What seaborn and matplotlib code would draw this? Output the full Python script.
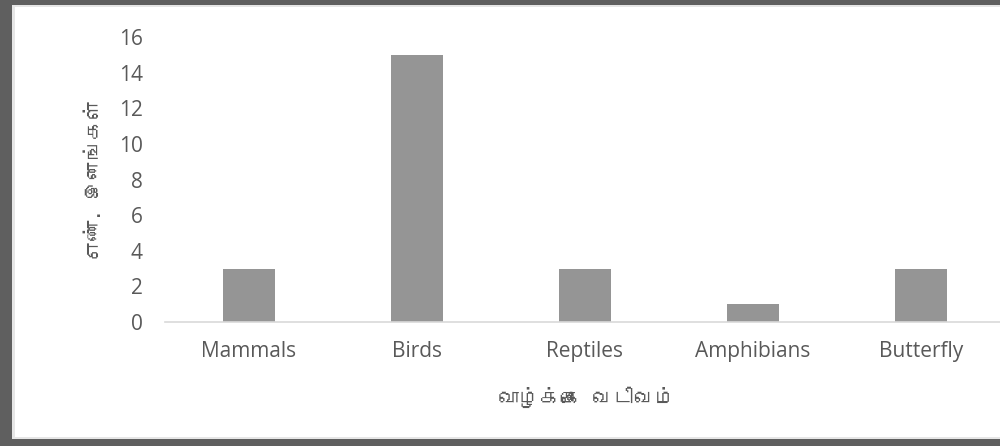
import matplotlib
matplotlib.use("Agg")
import matplotlib.pyplot as plt
from matplotlib import font_manager
from matplotlib.patches import Rectangle
import seaborn as sns
import pandas as pd

categories = ["Mammals", "Birds", "Reptiles", "Amphibians", "Butterfly"]
counts = [3, 15, 3, 1, 3]
y_ticks = [0, 2, 4, 6, 8, 10, 12, 14, 16]
x_label = "வாழ்க்கை வடிவம்"
y_label = "எண். இனங்கள்"

sns.set_theme(style="white")

# look for any installed font that has Tamil glyphs
tamil_family = None
try:
    from matplotlib.ft2font import FT2Font
    for fe in font_manager.fontManager.ttflist:
        try:
            f = FT2Font(fe.fname)
            cmap = f.get_charmap()
            if 0x0BB5 in cmap and 0x0BBE in cmap:
                tamil_family = fe.name
                break
        except Exception:
            continue
except Exception:
    pass

base_fams = ["Open Sans", "DejaVu Sans"]
label_fams = ([tamil_family] if tamil_family else []) + base_fams
plt.rcParams["font.family"] = base_fams

df = pd.DataFrame({"category": categories, "count": counts})

fig = plt.figure(figsize=(10, 4.46), dpi=100)
ax = fig.add_axes([0.165, 0.278, 0.84, 0.639])
sns.barplot(data=df, x="category", y="count", color="#959595", width=0.315,
            saturation=1, ax=ax, edgecolor="none")

ax.set_xlim(-0.5, 4.5)
ax.set_ylim(0, 16)
ax.set_yticks(y_ticks)
ax.set_yticklabels([str(v) for v in y_ticks])
ax.tick_params(axis="both", length=0, labelsize=15)
ax.tick_params(axis="y", pad=16)
ax.tick_params(axis="x", pad=14)
for lab in ax.get_xticklabels() + ax.get_yticklabels():
    lab.set_color("#595959")
for s in ["top", "right", "left"]:
    ax.spines[s].set_visible(False)
ax.spines["bottom"].set_color("#d9d9d9")
ax.spines["bottom"].set_linewidth(1.2)

ax.set_xlabel("")
ax.set_ylabel("")
fig.text(0.587, 0.11, x_label, ha="center", va="center", fontsize=15,
         color="#595959", family=label_fams, style="italic")
fig.text(0.094, 0.598, y_label, ha="center", va="center", fontsize=14.5,
         color="#595959", family=label_fams, rotation=90, style="italic")

# dark frame around the chart (left, top, bottom)
W, H = 1000, 446
frame_color = "#5f5f5f"
fig.patches.append(Rectangle((0, 0), 12 / W, 1, transform=fig.transFigure,
                             facecolor=frame_color, edgecolor="none", zorder=10))
fig.patches.append(Rectangle((0, 1 - 5 / H), 1, 5 / H, transform=fig.transFigure,
                             facecolor=frame_color, edgecolor="none", zorder=10))
fig.patches.append(Rectangle((0, 0), 1, 7 / H, transform=fig.transFigure,
                             facecolor=frame_color, edgecolor="none", zorder=10))
# light inner edge
fig.patches.append(Rectangle((12 / W, 7 / H), 3 / W, 1 - 12 / H, transform=fig.transFigure,
                             facecolor="#e6e6e6", edgecolor="none", zorder=9))
fig.patches.append(Rectangle((12 / W, 7 / H), 1, 2 / H, transform=fig.transFigure,
                             facecolor="#e6e6e6", edgecolor="none", zorder=9))
fig.patches.append(Rectangle((12 / W, 1 - 7 / H), 1, 2 / H, transform=fig.transFigure,
                             facecolor="#e6e6e6", edgecolor="none", zorder=9))

fig.savefig("out.png", dpi=100)
